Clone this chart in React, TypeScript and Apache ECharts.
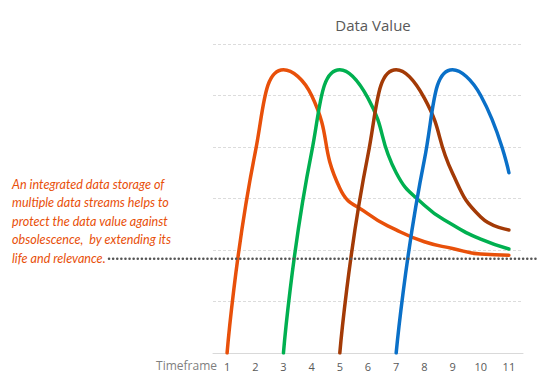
import React, { useEffect, useRef } from "react";
import * as echarts from "echarts";

const categories = ["1", "2", "3", "4", "5", "6", "7", "8", "9", "10", "11"];
const seriesOrange = [0, 3.9, 5.5, 5.0, 3.2, 2.7, 2.39, 2.16, 2.03, 1.92, 1.9];
const seriesGreen = [null, null, 0, 3.9, 5.5, 4.95, 3.5, 2.87, 2.49, 2.21, 2.02];
const seriesBrown = [null, null, null, null, 0, 3.85, 5.5, 4.95, 3.49, 2.64, 2.39];
const seriesBlue = [null, null, null, null, null, null, 0, 3.75, 5.5, 5.0, 3.5];
const threshold = 1.83;
const note = [
  "An integrated data storage of",
  "multiple data streams helps to",
  "protect the data value against",
  "obsolescence,  by extending its",
  "life and relevance.",
];

export default function App() {
  const ref = useRef<HTMLDivElement>(null);
  useEffect(() => {
    const chart = echarts.init(ref.current!, undefined, { renderer: "svg" });
    const mk = (name: string, data: (number | null)[], color: string) => ({
      name,
      type: "line",
      data,
      smooth: 0.5,
      symbol: "none",
      connectNulls: false,
      lineStyle: { color, width: 3.5, cap: "round" },
      z: 3,
    });
    chart.setOption({
      animation: false,
      title: {
        text: "Data Value",
        left: 368,
        textAlign: "center",
        top: 12,
        textStyle: { fontFamily: "Open Sans", fontSize: 15, fontWeight: "normal", color: "#595959" },
      },
      grid: { left: 213, right: 27, top: 44, bottom: 30 },
      xAxis: {
        type: "category",
        data: categories,
        boundaryGap: true,
        axisLine: { lineStyle: { color: "#d9d9d9", width: 1 } },
        axisTick: { show: false },
        axisLabel: { color: "#595959", fontSize: 11, fontFamily: "Open Sans", margin: 8 },
      },
      yAxis: {
        type: "value",
        min: 0,
        max: 6,
        interval: 1,
        axisLine: { show: false },
        axisTick: { show: false },
        axisLabel: { show: false },
        splitLine: { lineStyle: { color: "#dcdcdc", type: [3, 2], width: 1 } },
      },
      series: [
        mk("A", seriesOrange, "#E8500A"),
        mk("B", seriesGreen, "#00B050"),
        mk("C", seriesBrown, "#A33A06"),
        mk("D", seriesBlue, "#0A70C8"),
      ],
    });
    const y = chart.convertToPixel({ yAxisIndex: 0 }, threshold) as number;
    chart.setOption({
      graphic: [
        {
          type: "line",
          shape: { x1: 109, y1: y, x2: 536, y2: y },
          style: { stroke: "#555555", lineWidth: 2.5, lineDash: [0.1, 4], lineCap: "round" },
          z: 10,
        },
        {
          type: "text",
          x: 217,
          y: 365,
          style: {
            text: "Timeframe",
            fill: "#7f7f7f",
            font: "12px 'Open Sans'",
            textAlign: "right",
            textVerticalAlign: "middle",
          },
        },
        ...note.map((t, i) => ({
          type: "text",
          x: 12,
          y: 184 + i * 18.5,
          style: {
            text: t,
            fill: "#E8500A",
            font: "italic 12.6px Lato",
            textAlign: "left",
            textVerticalAlign: "middle",
          },
        })),
      ],
    });
    return () => chart.dispose();
  }, []);
  return <div ref={ref} style={{ width: 550, height: 383, position: "absolute", left: 0, top: 0 }} />;
}
